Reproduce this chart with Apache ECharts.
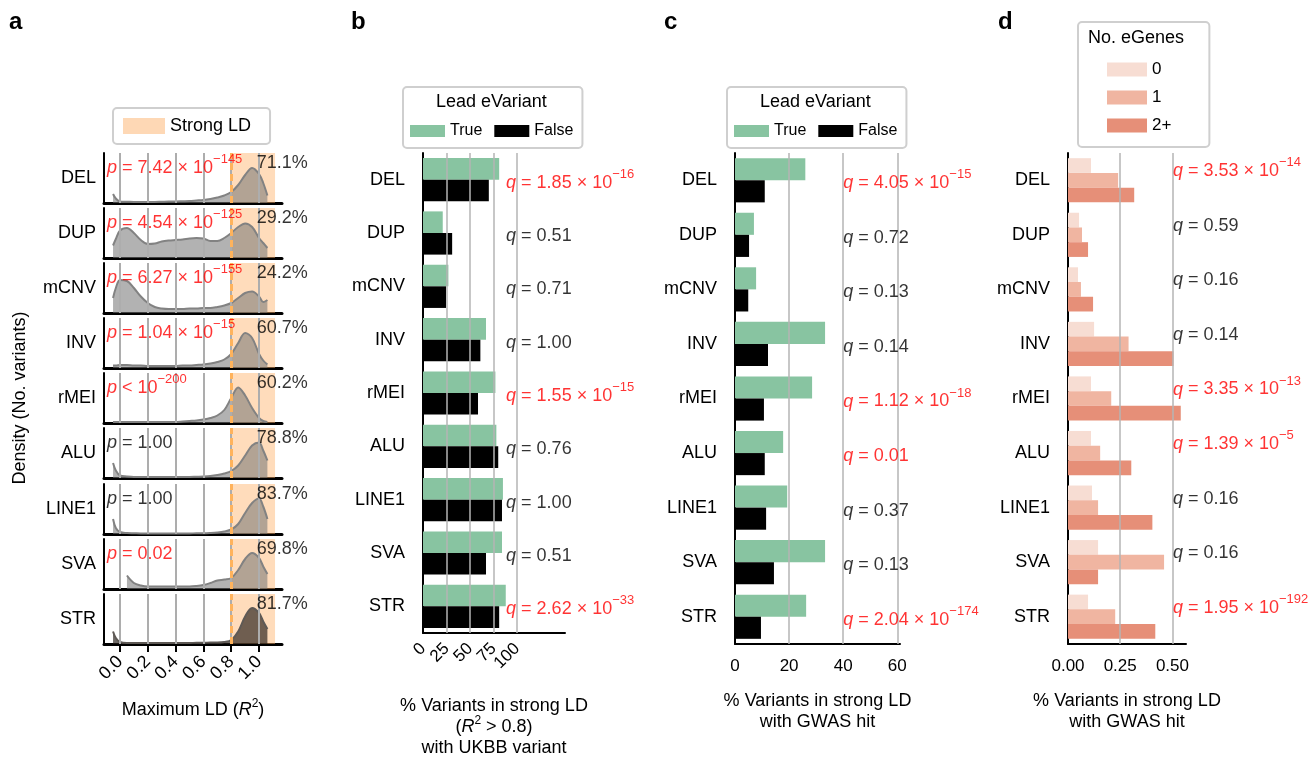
<!DOCTYPE html>
<html><head><meta charset="utf-8">
<script src="https://cdn.jsdelivr.net/npm/echarts@6/dist/echarts.min.js"></script>
<style>html,body{margin:0;padding:0;background:#fff}#c{width:1312px;height:762px}</style>
</head><body><div id="c"></div>
<script>
const FONT = '"Liberation Sans", Arial, Helvetica, sans-serif';
const categories = ['DEL','DUP','mCNV','INV','rMEI','ALU','LINE1','SVA','STR'];

// ---- panel a: density of maximum LD (relative height within each row) ----
const ldX = [-0.05,-0.03,0,0.05,0.1,0.15,0.2,0.25,0.3,0.35,0.4,0.45,0.5,0.55,0.6,0.65,0.7,0.75,0.8,0.85,0.9,0.95,1.0,1.03,1.06];
const densDEL  = [0.18,0.09,0.03,0.025,0.02,0.02,0.02,0.02,0.025,0.03,0.03,0.035,0.04,0.05,0.06,0.08,0.11,0.15,0.22,0.36,0.56,0.70,0.58,0.40,0.15];
const densDUP  = [0.25,0.38,0.55,0.60,0.50,0.36,0.28,0.29,0.33,0.35,0.36,0.37,0.39,0.40,0.39,0.34,0.34,0.40,0.50,0.62,0.69,0.62,0.40,0.30,0.20];
const densMCNV = [0.30,0.50,0.66,0.64,0.50,0.33,0.20,0.12,0.09,0.08,0.08,0.08,0.09,0.09,0.10,0.10,0.12,0.15,0.20,0.30,0.40,0.43,0.33,0.22,0.26];
const densINV  = [0.05,0.05,0.06,0.06,0.05,0.05,0.04,0.04,0.04,0.04,0.04,0.05,0.05,0.06,0.07,0.09,0.12,0.17,0.28,0.50,0.70,0.60,0.28,0.15,0.07];
const densRMEI = [0.02,0.02,0.02,0.02,0.02,0.02,0.02,0.02,0.02,0.02,0.02,0.03,0.04,0.05,0.07,0.10,0.15,0.26,0.50,0.71,0.55,0.30,0.10,0.04,0.02];
const densALU  = [0.30,0.15,0.05,0.03,0.02,0.02,0.02,0.02,0.02,0.02,0.02,0.02,0.02,0.025,0.03,0.04,0.06,0.09,0.14,0.25,0.45,0.65,0.71,0.55,0.35];
const densLINE1= [0.30,0.12,0.04,0.02,0.015,0.01,0.01,0.01,0.01,0.01,0.01,0.01,0.01,0.015,0.015,0.02,0.03,0.05,0.09,0.20,0.42,0.62,0.71,0.55,0.30];
const densSVA  = [null,null,null,0.27,0.12,0.07,0.05,0.05,0.05,0.05,0.05,0.05,0.05,0.06,0.08,0.12,0.17,0.19,0.22,0.38,0.60,0.72,0.62,0.45,0.30];
const densSTR  = [0.25,0.12,0.04,0.02,0.02,0.02,0.02,0.02,0.02,0.02,0.02,0.02,0.02,0.025,0.025,0.03,0.03,0.04,0.08,0.25,0.55,0.72,0.62,0.45,0.30];
const densities = [densDEL,densDUP,densMCNV,densINV,densRMEI,densALU,densLINE1,densSVA,densSTR];
const strongPct = ['71.1%','29.2%','24.2%','60.7%','60.2%','78.8%','83.7%','69.8%','81.7%'];
const pRel  = ['=','=','=','=','<','=','=','=',null];
const pMant = ['7.42','4.54','6.27','1.04','','1.00','1.00','0.02',null];
const pExp  = ['145','125','155','15','200',null,null,null,null];
const pSig  = [true,true,true,true,true,false,false,true,false];
const ldTicks = [0,0.2,0.4,0.6,0.8,1.0];
const strongLD = [0.8, 1.115];

// ---- panel b: % in strong LD with UKBB variant ----
const ukbbTrue  = [81,21,27,67,77,78,85,84,88];
const ukbbFalse = [70,31,24.5,61,58.5,80,84,67,81];
const qBMant = ['1.85','0.51','0.71','1.00','1.55','0.76','1.00','0.51','2.62'];
const qBExp  = ['16',null,null,null,'15',null,null,null,'33'];
const ticksB = [0,25,50,75,100];

// ---- panel c: % in strong LD with GWAS hit ----
const gwasTrue  = [26,7,7.8,33.3,28.5,17.8,19.3,33.3,26.3];
const gwasFalse = [11,5.2,4.9,12.2,10.7,11,11.5,14.4,9.6];
const qCMant = ['4.05','0.72','0.13','0.14','1.12','0.01','0.37','0.13','2.04'];
const qCExp  = ['15',null,null,null,'18',null,null,null,'174'];
const qCSig  = [true,false,false,false,true,true,false,false,true];
const ticksC = [0,20,40,60];

// ---- panel d: by number of eGenes ----
const eg0  = [0.11,0.053,0.048,0.125,0.11,0.11,0.115,0.144,0.096];
const eg1  = [0.24,0.067,0.062,0.29,0.207,0.154,0.144,0.46,0.226];
const eg2p = [0.317,0.096,0.12,0.505,0.54,0.303,0.404,0.144,0.418];
const qDMant = ['3.53','0.59','0.16','0.14','3.35','1.39','0.16','0.16','1.95'];
const qDExp  = ['14',null,null,null,'13','5',null,null,'192'];
const ticksD = [0,0.25,0.5];

const GREEN = '#88c4a1', BLACK = '#000000';
const EG_COL = ['#f7ddd3','#f0b5a1','#e68f78'];
const RED = '#ff0000';

const RICH = {
  i:{fontFamily:FONT, fontStyle:'italic', fontSize:18, lineHeight:24, verticalAlign:'bottom'},
  n:{fontFamily:FONT, fontSize:18, lineHeight:24, verticalAlign:'bottom'},
  s:{fontFamily:FONT, fontSize:13, lineHeight:13, verticalAlign:'top'}
};
const RICH_NAME = {
  i:{fontFamily:FONT, fontStyle:'italic', fontSize:18, lineHeight:21, verticalAlign:'bottom'},
  n:{fontFamily:FONT, fontSize:18, lineHeight:21, verticalAlign:'bottom'},
  s:{fontFamily:FONT, fontSize:12, lineHeight:12, verticalAlign:'top'}
};
function statText(letter, rel, mant, exp){
  if (exp != null) {
    const m = mant === '' ? ' ' + rel + ' 10' : ' ' + rel + ' ' + mant + ' \u00d7 10';
    return '{i|' + letter + '}{n|' + m + '}{s|\u2212' + exp + '}';
  }
  return '{i|' + letter + '}{n| ' + rel + ' ' + mant + '}';
}

const grids = [], xAxes = [], yAxes = [], series = [];
const rowTops = [153,208,263,318,373,428,484,539,594];
const rowH = 50;

categories.forEach((cat, i) => {
  const last = i === categories.length - 1;
  grids.push({left:104, top:rowTops[i], width:178, height:rowH});
  xAxes.push({
    gridIndex:i, type:'value', min:-0.115, max:1.165,
    axisLine:{show:true, onZero:false, lineStyle:{color:'#000', width:3}},
    axisTick:{show:last, customValues:ldTicks, length:8, lineStyle:{color:'#000', width:2}},
    axisLabel:{show:last, customValues:ldTicks, rotate:45, margin:15, fontSize:18, color:'#000', fontFamily:FONT,
      interval:0, showMinLabel:true, showMaxLabel:true, formatter:v => v.toFixed(1)},
    splitLine:{show:false},
    name: last ? '{n|Maximum LD (}{i|R}{s|2}{n|)}' : '',
    nameLocation:'middle', nameGap:54, nameMoveOverlap:false,
    nameTextStyle:{fontSize:18, color:'#000', fontFamily:FONT, rich:RICH_NAME}
  });
  yAxes.push({
    gridIndex:i, type:'value', min:0, max:1,
    axisLine:{show:true, onZero:false, lineStyle:{color:'#000', width:2}},
    axisTick:{show:false},
    axisLabel:{customValues:[0.5], formatter:() => cat, fontSize:18, color:'#000', margin:8, fontFamily:FONT},
    splitLine:{show:false},
    name: i === 4 ? 'Density (No. variants)' : '',
    nameLocation:'middle', nameRotate:90, nameGap:75, nameMoveOverlap:false,
    nameTextStyle:{fontSize:18, color:'#000', fontFamily:FONT}
  });
  const dens = densities[i];
  const isSTR = cat === 'STR';
  series.push({
    type:'line', xAxisIndex:i, yAxisIndex:i, silent:true, z:2,
    data: ldX.map((x, j) => [x, dens[j]]).filter(p => p[1] != null),
    smooth:0.35, showSymbol:false, symbol:'none',
    lineStyle:{color: isSTR ? '#5e5955' : '#828282', width:2},
    areaStyle:{color: isSTR ? 'rgba(38,30,25,0.95)' : 'rgba(118,118,118,0.8)', origin:'start'},
    markArea:{silent:true, itemStyle:{color:'rgba(255,178,104,0.45)'},
      data:[[{xAxis:strongLD[0]},{xAxis:strongLD[1]}]]},
    markLine:{silent:true, symbol:['none','none'], label:{show:false}, animation:false,
      data: ldTicks.map(v => ({xAxis:v, lineStyle:{color:'#adadad', width:2, type:'solid'}}))
        .concat([{xAxis:strongLD[0], lineStyle:{color:'#ffb35c', width:3, type:[7,4]}}])}
  });
  const ann = [{value:[1.35, 0.79], label:{show:true, position:'left', distance:0, color:'#000', fontSize:18, formatter: strongPct[i]}}];
  if (pRel[i] != null) {
    ann.push({value:[-0.094, 0.76], label:{show:true, position:'right', distance:0, color: pSig[i] ? RED : '#000',
      formatter: statText('p', pRel[i], pMant[i], pExp[i])}});
  }
  series.push({type:'scatter', xAxisIndex:i, yAxisIndex:i, symbolSize:0.1, clip:false, silent:true, z:6,
    itemStyle:{color:'transparent'}, label:{show:true, fontFamily:FONT, rich:RICH}, data:ann});
});
// legend entry for panel a
series.push({type:'line', name:'Strong LD', xAxisIndex:0, yAxisIndex:0, data:[], itemStyle:{color:'#fed8b5'}, lineStyle:{color:'#fed8b5'}});

const extraAxes = [];
function barPanel(gi, left, width, max, ticks, tickFmt, rotate, nameText, nameGap, gridOnTop) {
  grids.push({left:left, top:153, width:width, height:491});
  // rotated labels: split over two overlaid axes so none of them is culled
  const labA = rotate ? ticks.filter((v, k) => k % 2 === 0) : ticks;
  const labB = rotate ? ticks.filter((v, k) => k % 2 === 1) : [];
  const labelBase = {rotate:rotate, margin: rotate ? 13 : 14, fontSize:17, color:'#000', fontFamily:FONT,
      interval:0, showMinLabel:true, showMaxLabel:true, hideOverlap:false, formatter:tickFmt};
  xAxes.push({
    gridIndex:gi, type:'value', min:0, max:max, position:'bottom',
    axisLine:{show:true, onZero:false, lineStyle:{color:'#000', width:2}},
    axisTick:{customValues:ticks, length:8, lineStyle:{color:'#000', width:2}},
    axisLabel:Object.assign({customValues:labA}, labelBase),
    splitLine:{show:false},
    name:nameText, nameLocation:'middle', nameGap:nameGap, nameMoveOverlap:false,
    nameTextStyle:{fontSize:18, color:'#000', fontFamily:FONT, lineHeight:21, rich:RICH_NAME}
  });
  if (labB.length) {
    extraAxes.push({
      gridIndex:gi, type:'value', min:0, max:max, position:'bottom', offset:0,
      axisLine:{show:false, onZero:false}, axisTick:{show:false},
      axisLabel:Object.assign({customValues:labB}, labelBase),
      splitLine:{show:false}
    });
  }
  yAxes.push({
    gridIndex:gi, type:'category', data:categories, inverse:true,
    axisLine:{show:true, lineStyle:{color:'#000', width:2}},
    axisTick:{alignWithLabel:true, length:9, lineStyle:{color:'#000', width:2}},
    axisLabel:{fontSize:18, color:'#000', margin:18, fontFamily:FONT, interval:0},
    splitLine:{show:false}
  });
  series.push({type:'line', xAxisIndex:gi, yAxisIndex:gi, data:[], silent:true, z: gridOnTop ? 4 : 1,
    markLine:{silent:true, symbol:['none','none'], label:{show:false}, animation:false,
      lineStyle:{color:'#b5b5b5', width:1.5, type:'solid'},
      data: ticks.filter(v => v > 0).map(v => ({xAxis:v}))}});
}
function annSeries(gi, xVal, mants, exps, sigs, dy) {
  series.push({type:'scatter', xAxisIndex:gi, yAxisIndex:gi, symbolSize:0.1, clip:false, silent:true, z:6,
    itemStyle:{color:'transparent'},
    label:{show:true, position:'right', distance:0, offset:[0, dy], fontFamily:FONT, rich:RICH},
    data: categories.map((c, k) => ({value:[xVal, c],
      label:{color: sigs[k] ? RED : '#000', formatter: statText('q', '=', mants[k], exps[k])}}))});
}

// panel b
barPanel(9, 423, 142, 151, ticksB, v => String(v), 45,
  '{n|% Variants in strong LD}\n{n|(}{i|R}{s|2}{n| > 0.8)}\n{n|with UKBB variant}', 61, false);
series.push({type:'bar', name:'True', xAxisIndex:9, yAxisIndex:9, data:ukbbTrue, itemStyle:{color:GREEN}, barGap:'0%', barCategoryGap:'19%', z:2, silent:true});
series.push({type:'bar', name:'False', xAxisIndex:9, yAxisIndex:9, data:ukbbFalse, itemStyle:{color:BLACK}, barGap:'0%', barCategoryGap:'19%', z:2, silent:true});
annSeries(9, 88.3, qBMant, qBExp, qBExp.map(e => e != null), 0);

// panel c
barPanel(10, 735, 165, 61, ticksC, v => String(v), 0,
  '% Variants in strong LD\nwith GWAS hit', 47, false);
series.push({type:'bar', name:'True', xAxisIndex:10, yAxisIndex:10, data:gwasTrue, itemStyle:{color:GREEN}, barGap:'0%', barCategoryGap:'19%', z:2, silent:true});
series.push({type:'bar', name:'False', xAxisIndex:10, yAxisIndex:10, data:gwasFalse, itemStyle:{color:BLACK}, barGap:'0%', barCategoryGap:'19%', z:2, silent:true});
annSeries(10, 40, qCMant, qCExp, qCSig, 0);

// panel d
barPanel(11, 1068, 118, 0.565, ticksD, v => v.toFixed(2), 0,
  '% Variants in strong LD\nwith GWAS hit', 47, true);
[eg0, eg1, eg2p].forEach((d, k) => {
  series.push({type:'bar', name:['0','1','2+'][k], xAxisIndex:11, yAxisIndex:11, data:d,
    itemStyle:{color:EG_COL[k]}, barGap:'0%', barCategoryGap:'19%', z:2, silent:true});
});
annSeries(11, 0.502, qDMant, qDExp, qDExp.map(e => e != null), -12);

extraAxes.forEach(a => xAxes.push(a));

const legendBase = {borderColor:'#cfcfcf', borderWidth:2, borderRadius:4, backgroundColor:'#fff',
  selectedMode:false, z:2, textStyle:{fontSize:16, color:'#000', fontFamily:FONT}};
const option = {
  animation:false,
  backgroundColor:'#fff',
  textStyle:{fontFamily:FONT},
  title:[
    {text:'a', left:9, top:10, padding:0, textStyle:{fontSize:24, fontWeight:'bold', color:'#000', fontFamily:FONT}},
    {text:'b', left:351, top:10, padding:0, textStyle:{fontSize:24, fontWeight:'bold', color:'#000', fontFamily:FONT}},
    {text:'c', left:664, top:10, padding:0, textStyle:{fontSize:24, fontWeight:'bold', color:'#000', fontFamily:FONT}},
    {text:'d', left:998, top:10, padding:0, textStyle:{fontSize:24, fontWeight:'bold', color:'#000', fontFamily:FONT}},
    {text:'Lead eVariant', left:436, top:93, padding:0, z:10, textStyle:{fontSize:18, fontWeight:'normal', color:'#000', fontFamily:FONT}},
    {text:'Lead eVariant', left:760, top:93, padding:0, z:10, textStyle:{fontSize:18, fontWeight:'normal', color:'#000', fontFamily:FONT}},
    {text:'No. eGenes', left:1088, top:29, padding:0, z:10, textStyle:{fontSize:18, fontWeight:'normal', color:'#000', fontFamily:FONT}}
  ],
  legend:[
    Object.assign({}, legendBase, {left:113, top:108, data:[{name:'Strong LD', icon:'rect'}],
      itemWidth:42, itemHeight:16, padding:[9,19,9,10], textStyle:{fontSize:18, color:'#000', fontFamily:FONT}}),
    Object.assign({}, legendBase, {left:403, top:87, data:[{name:'True', icon:'rect'},{name:'False', icon:'rect'}],
      itemWidth:35, itemHeight:12, itemGap:12, padding:[36,9,9,7]}),
    Object.assign({}, legendBase, {left:727, top:87, data:[{name:'True', icon:'rect'},{name:'False', icon:'rect'}],
      itemWidth:35, itemHeight:12, itemGap:12, padding:[36,9,9,7]}),
    Object.assign({}, legendBase, {left:1078, top:22, orient:'vertical',
      data:[{name:'0', icon:'rect'},{name:'1', icon:'rect'},{name:'2+', icon:'rect'}],
      itemWidth:40, itemHeight:14, itemGap:11, padding:[39,38,13,29],
      textStyle:{fontSize:17, lineHeight:14, color:'#000', fontFamily:FONT}})
  ],
  grid:grids, xAxis:xAxes, yAxis:yAxes, series:series
};
const chart = echarts.init(document.getElementById('c'), null, {renderer:'canvas'});
chart.setOption(option);
</script></body></html>
